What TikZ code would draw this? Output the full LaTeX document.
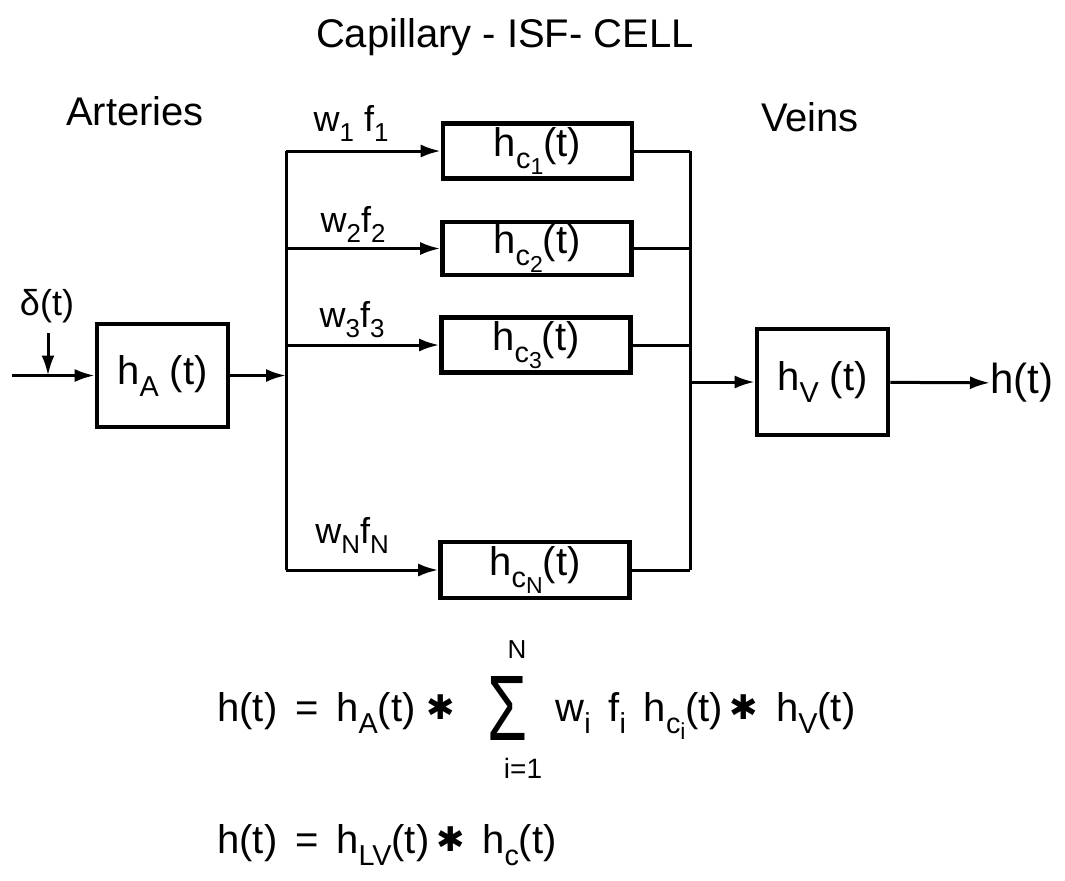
\documentclass[tikz,border=0pt]{standalone}
\usepackage{fontspec}
\setmainfont{Liberation Sans}
\newfontfamily\djv{DejaVu Sans}
\usetikzlibrary{arrows.meta}
\newcommand\lo[1]{\raisebox{-0.3em}{\scalebox{0.72}{#1}}}
\newcommand\llo[1]{\raisebox{-0.22em}{\scalebox{0.8}{#1}}}
\newcommand\conv{\raisebox{0.05em}{\scalebox{0.85}{\djv ✱}}}
\tikzset{
  wire/.style={line width=1.5pt},
  arr/.style={wire,-{Latex[length=10pt,width=6.5pt]}},
  blk/.style={draw,line width=2.3pt,inner sep=0pt,font=\fontsize{20}{24}\selectfont},
  wlab/.style={anchor=base,inner sep=0pt,font=\fontsize{18}{22}\selectfont},
  txt/.style={anchor=base,inner sep=0pt,font=\fontsize{20}{24}\selectfont},
  frm/.style={anchor=base west,inner sep=0pt,font=\fontsize{20}{24}\selectfont},
}
\begin{document}
\begin{tikzpicture}[x=0.5pt,y=-0.5pt]
\useasboundingbox (0,0) rectangle (1065,880);
% titles
\node[txt] (title) at (505,47) {Capillary - ISF- CELL};
\node[txt] (art) at (135,125) {Arteries};
\node[txt] (vein) at (810,131) {Veins};
% blocks
\node[blk,minimum width=65.5pt,minimum height=51.5pt] (hA) at (162.5,375.5) {h\lo{A} (t)};
\node[blk,minimum width=94.5pt,minimum height=27.5pt] (c1) at (537.5,151) {\raisebox{0.12em}{h\lo{c\llo{1}}(t)}};
\node[blk,minimum width=94.5pt,minimum height=26.5pt] (c2) at (537,248.5) {\raisebox{0.12em}{h\lo{c\llo{2}}(t)}};
\node[blk,minimum width=94.5pt,minimum height=27.5pt] (c3) at (536,345) {\raisebox{0.12em}{h\lo{c\llo{3}}(t)}};
\node[blk,minimum width=94.5pt,minimum height=28pt] (cN) at (535,570) {\raisebox{0.12em}{h\lo{c\llo{N}}(t)}};
\node[blk,minimum width=65.5pt,minimum height=53pt] (hV) at (822.5,382) {h\lo{V} (t)};
% input
\coordinate (in) at (12,375.5);
\coordinate (dtop) at (48,333);
\coordinate (dbot) at (48,375.5);
\node[anchor=base,inner sep=0pt,font=\fontsize{18}{22}\selectfont] (delta) at (47,315) {δ(t)};
\draw[arr] (in) -- (hA);
\draw[arr] (dtop) -- (dbot);
% left bus
\coordinate (LA) at (286,375.5);
\coordinate (L1) at (286,151);
\coordinate (L2) at (286,248.5);
\coordinate (L3) at (286,345);
\coordinate (LN) at (286,570);
\draw[arr] (hA) -- (LA);
\draw[wire] (L1) -- (LN);
\draw[arr] (L1) -- (c1);
\draw[arr] (L2) -- (c2);
\draw[arr] (L3) -- (c3);
\draw[arr] (LN) -- (cN);
% branch labels
\node[wlab] (w1) at (351,131) {w\lo{1} f\lo{1}};
\node[wlab] (w2) at (353,232) {w\lo{2}f\lo{2}};
\node[wlab] (w3) at (352,327) {w\lo{3}f\lo{3}};
\node[wlab] (wN) at (352,543) {w\lo{N}f\lo{N}};
% right bus
\coordinate (R1) at (690,151);
\coordinate (R2) at (690,248.5);
\coordinate (R3) at (690,345);
\coordinate (RN) at (690,570);
\coordinate (RV) at (690,382);
\draw[wire] (c1) -- (R1);
\draw[wire] (c2) -- (R2);
\draw[wire] (c3) -- (R3);
\draw[wire] (cN) -- (RN);
\draw[wire] (R1) -- (RN);
\draw[arr] (RV) -- (hV);
% output
\node[anchor=west,inner sep=0pt,font=\fontsize{21}{25}\selectfont] (ht) at (990,383) {h(t)};
\draw[arr] (hV) -- (ht);
% formulas
\node[frm] (f1l) at (217,721) {h(t) \,= \,h\lo{A}(t) \conv};
\node[inner sep=0pt] (sum) at (507,708) {\resizebox{20pt}{32pt}{Σ}};
\node[anchor=base,inner sep=0pt,font=\fontsize{13}{15}\selectfont] (sN) at (517,658) {N};
\node[anchor=base,inner sep=0pt,font=\fontsize{14}{16}\selectfont] (si) at (523,778) {i=1};
\node[frm] (f1r) at (555,721) {w\lo{i} \,f\lo{i} \,h\lo{c\llo{i}}(t)\,\conv\, h\lo{V}(t)};
\node[frm] (f2) at (217,853) {h(t) \,= \,h\lo{LV}(t)\,\conv\, h\lo{c}(t)};
\end{tikzpicture}
\end{document}
